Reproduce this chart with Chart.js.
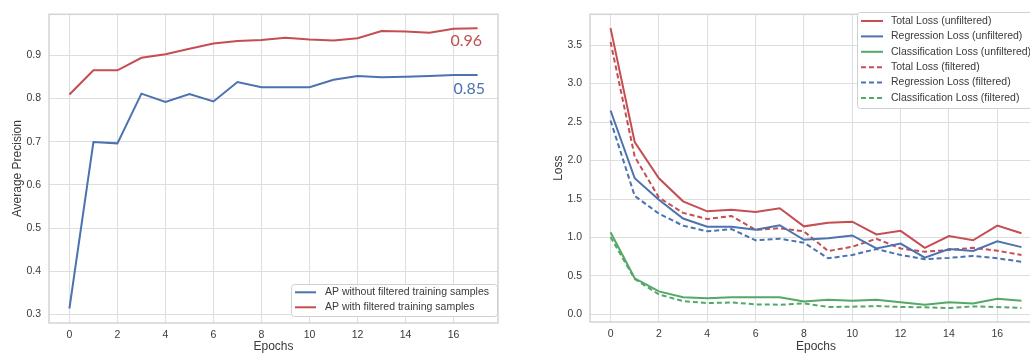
<!DOCTYPE html>
<html>
<head>
<meta charset="utf-8">
<script src="https://cdn.jsdelivr.net/npm/chart.js@4.4.1/dist/chart.umd.min.js"></script>
<style>
  html, body { margin: 0; padding: 0; background: #fff; overflow: hidden; }
  #wrap { position: relative; width: 1030px; height: 354px; overflow: hidden; }
  #apBox { position: absolute; left: 0; top: 0; width: 510px; height: 354px; }
  #lossBox { position: absolute; left: 510px; top: 0; width: 545px; height: 354px; }
</style>
</head>
<body>
<div id="wrap">
  <div id="apBox"><canvas id="apCanvas" width="510" height="354"></canvas></div>
  <div id="lossBox"><canvas id="lossCanvas" width="545" height="354"></canvas></div>
</div>
<script>
// epochs and tick labels
var epochs = [0, 1, 2, 3, 4, 5, 6, 7, 8, 9, 10, 11, 12, 13, 14, 15, 16, 17];
var epochTicks = [0, 2, 4, 6, 8, 10, 12, 14, 16];
var apTicks = [0.3, 0.4, 0.5, 0.6, 0.7, 0.8, 0.9];
var lossTicks = [0.0, 0.5, 1.0, 1.5, 2.0, 2.5, 3.0, 3.5];

// left chart: average precision
var apUnfiltered = [0.314, 0.699, 0.696, 0.811, 0.792, 0.810, 0.793, 0.838, 0.826, 0.826, 0.826, 0.843, 0.852, 0.849, 0.850, 0.852, 0.854, 0.854];
var apFiltered   = [0.809, 0.865, 0.865, 0.894, 0.902, 0.915, 0.927, 0.933, 0.935, 0.940, 0.936, 0.934, 0.939, 0.956, 0.955, 0.952, 0.961, 0.962];
var apLabels = ["AP without filtered training samples", "AP with filtered training samples"];
var apNotes = ["0.96", "0.85"];

// right chart: losses
var totalLossUnf = [3.72, 2.24, 1.77, 1.47, 1.34, 1.36, 1.33, 1.38, 1.145, 1.19, 1.205, 1.04, 1.086, 0.866, 1.018, 0.964, 1.154, 1.056];
var regLossUnf   = [2.65, 1.77, 1.49, 1.246, 1.14, 1.14, 1.10, 1.16, 0.97, 0.99, 1.027, 0.857, 0.921, 0.739, 0.85, 0.824, 0.951, 0.875];
var clsLossUnf   = [1.069, 0.47, 0.30, 0.223, 0.21, 0.223, 0.223, 0.223, 0.169, 0.19, 0.178, 0.19, 0.16, 0.127, 0.16, 0.143, 0.203, 0.178];
var totalLossF   = [3.54, 2.05, 1.52, 1.32, 1.24, 1.28, 1.10, 1.12, 1.08, 0.824, 0.879, 0.984, 0.857, 0.815, 0.837, 0.866, 0.828, 0.773];
var regLossF     = [2.52, 1.54, 1.31, 1.154, 1.08, 1.11, 0.963, 0.984, 0.933, 0.73, 0.773, 0.85, 0.773, 0.718, 0.735, 0.761, 0.73, 0.685];
var clsLossF     = [1.005, 0.46, 0.26, 0.173, 0.147, 0.156, 0.131, 0.127, 0.143, 0.097, 0.10, 0.109, 0.097, 0.093, 0.084, 0.105, 0.097, 0.084];
var lossLabels = ["Total Loss (unfiltered)", "Regression Loss (unfiltered)", "Classification Loss (unfiltered)",
                  "Total Loss (filtered)", "Regression Loss (filtered)", "Classification Loss (filtered)"];

var red = "#C44E52", blue = "#4C72B0", green = "#55A868";
var gridColor = "#dedede";
var textColor = "#3a3a3a";
var fontFamily = "'Liberation Sans', Arial, sans-serif";

function points(arr) {
  return epochs.map(function (e, i) { return { x: e, y: arr[i] }; });
}

function line(label, arr, color, dashed) {
  return {
    label: label,
    data: points(arr),
    borderColor: color,
    backgroundColor: color,
    borderWidth: 2,
    borderDash: dashed ? [5, 3] : [],
    pointRadius: 0,
    tension: 0,
    fill: false
  };
}

// light grey frame around the plot area
var framePlugin = {
  id: "frame",
  beforeDatasetsDraw: function (chart) {
    var a = chart.chartArea, ctx = chart.ctx;
    ctx.save();
    ctx.strokeStyle = "#d4d4d4";
    ctx.lineWidth = 1.5;
    ctx.strokeRect(a.left, a.top, a.right - a.left, a.bottom - a.top);
    ctx.restore();
  }
};

// matplotlib-like legend box drawn inside the plot
var boxLegendPlugin = {
  id: "boxLegend",
  afterDraw: function (chart, args, opts) {
    var ctx = chart.ctx;
    var sets = chart.data.datasets;
    ctx.save();
    ctx.fillStyle = "#ffffff";
    ctx.strokeStyle = "#d0d0d0";
    ctx.lineWidth = 1;
    ctx.beginPath();
    ctx.roundRect(opts.x + 0.5, opts.y + 0.5, opts.width, opts.height, 3);
    ctx.fill();
    ctx.stroke();
    ctx.font = "10.5px " + fontFamily;
    ctx.textBaseline = "middle";
    ctx.textAlign = "left";
    sets.forEach(function (ds, i) {
      var cy = opts.firstRow + i * opts.rowStep;
      ctx.strokeStyle = ds.borderColor;
      ctx.lineWidth = 2;
      ctx.setLineDash(ds.borderDash);
      ctx.beginPath();
      ctx.moveTo(opts.sampleX, cy);
      ctx.lineTo(opts.sampleX + opts.sampleLen, cy);
      ctx.stroke();
      ctx.setLineDash([]);
      ctx.fillStyle = textColor;
      ctx.fillText(ds.label, opts.textX, cy);
    });
    ctx.restore();
  }
};

// final value notes on the AP chart
var notesPlugin = {
  id: "notes",
  afterDatasetsDraw: function (chart, args, opts) {
    if (!opts.items) return;
    var ctx = chart.ctx, xs = chart.scales.x, ys = chart.scales.y;
    ctx.save();
    ctx.font = "16px Lato, 'Open Sans', sans-serif";
    ctx.textAlign = "center";
    ctx.textBaseline = "middle";
    opts.items.forEach(function (it) {
      ctx.fillStyle = it.color;
      ctx.fillText(it.text, xs.getPixelForValue(it.x), ys.getPixelForValue(it.y));
    });
    ctx.restore();
  }
};

function xAxis(height) {
  return {
    type: "linear",
    min: -0.85,
    max: 17.85,
    afterBuildTicks: function (axis) { axis.ticks = epochTicks.map(function (v) { return { value: v }; }); },
    afterFit: function (axis) { axis.height = height; },
    grid: { color: gridColor, lineWidth: 1, drawTicks: false },
    border: { display: false },
    ticks: { padding: 6, color: textColor, font: { family: fontFamily, size: 10.5 }, maxRotation: 0, autoSkip: false },
    title: { display: true, text: "Epochs", color: textColor, font: { family: fontFamily, size: 12, lineHeight: 1 }, padding: { top: 0, bottom: 1 } }
  };
}

new Chart(document.getElementById("apCanvas"), {
  type: "line",
  data: {
    datasets: [
      line(apLabels[0], apUnfiltered, blue, false),
      line(apLabels[1], apFiltered, red, false)
    ]
  },
  options: {
    responsive: false,
    animation: false,
    layout: { padding: { top: 9, right: 12, bottom: 0, left: 0 } },
    scales: {
      x: xAxis(31),
      y: {
        min: 0.2805,
        max: 0.9945,
        afterBuildTicks: function (axis) { axis.ticks = apTicks.map(function (v) { return { value: v }; }); },
        afterFit: function (axis) { axis.width = 49; },
        grid: { color: gridColor, lineWidth: 1, drawTicks: false },
        border: { display: false },
        ticks: { padding: 8, color: textColor, font: { family: fontFamily, size: 10.5 }, callback: function (v) { return v.toFixed(1); } },
        title: { display: true, text: "Average Precision", color: textColor, font: { family: fontFamily, size: 12, lineHeight: 1 }, padding: { top: 11.5, bottom: 0 } }
      }
    },
    plugins: {
      legend: { display: false },
      tooltip: { enabled: false },
      boxLegend: { x: 291, y: 284, width: 206, height: 32, firstRow: 292.3, rowStep: 15, sampleX: 295, sampleLen: 21, textX: 325 },
      notes: { items: [
        { text: apNotes[0], x: 16.53, y: 0.933, color: red },
        { text: apNotes[1], x: 16.65, y: 0.823, color: blue }
      ] }
    }
  },
  plugins: [framePlugin, boxLegendPlugin, notesPlugin]
});

new Chart(document.getElementById("lossCanvas"), {
  type: "line",
  data: {
    datasets: [
      line(lossLabels[0], totalLossUnf, red, false),
      line(lossLabels[1], regLossUnf, blue, false),
      line(lossLabels[2], clsLossUnf, green, false),
      line(lossLabels[3], totalLossF, red, true),
      line(lossLabels[4], regLossF, blue, true),
      line(lossLabels[5], clsLossF, green, true)
    ]
  },
  options: {
    responsive: false,
    animation: false,
    layout: { padding: { top: 7, right: 13, bottom: 0, left: 0 } },
    scales: {
      x: xAxis(32),
      y: {
        min: -0.098,
        max: 3.90,
        afterBuildTicks: function (axis) { axis.ticks = lossTicks.map(function (v) { return { value: v }; }); },
        afterFit: function (axis) { axis.width = 80; },
        grid: { color: gridColor, lineWidth: 1, drawTicks: false },
        border: { display: false },
        ticks: { padding: 8, color: textColor, font: { family: fontFamily, size: 10.5 }, callback: function (v) { return v.toFixed(1); } },
        title: { display: true, text: "Loss", color: textColor, font: { family: fontFamily, size: 12, lineHeight: 1 }, padding: { top: 43, bottom: 0 } }
      }
    },
    plugins: {
      legend: { display: false },
      tooltip: { enabled: false },
      boxLegend: { x: 347, y: 12, width: 200, height: 96, firstRow: 21, rowStep: 15.4, sampleX: 351, sampleLen: 22, textX: 381 }
    }
  },
  plugins: [framePlugin, boxLegendPlugin]
});
</script>
</body>
</html>
